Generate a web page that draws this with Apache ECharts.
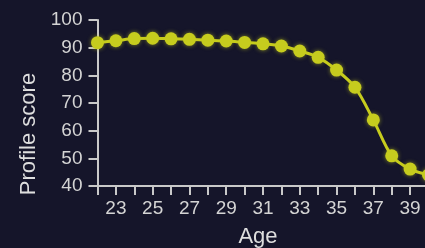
<!DOCTYPE html>
<html>
<head>
<meta charset="utf-8">
<script src="https://cdn.jsdelivr.net/npm/echarts@6/dist/echarts.min.js"></script>
<style>
  html, body { margin: 0; padding: 0; background: #15152a; }
  #chart { width: 425px; height: 248px; }
</style>
</head>
<body>
<div id="chart"></div>
<script>
  // ages and profile scores
  var ages = [22, 23, 24, 25, 26, 27, 28, 29, 30, 31, 32, 33, 34, 35, 36, 37, 38, 39, 40];
  var scores = [91.8, 92.5, 93.3, 93.4, 93.2, 93.0, 92.7, 92.4, 91.9, 91.4, 90.6, 88.8, 86.5, 81.9, 75.7, 63.9, 50.9, 46.1, 44.0];
  var yTicks = [40, 50, 60, 70, 80, 90, 100];

  var axisColor = '#c9c9c9';
  var lineColor = '#c6cc1e';

  var points = [];
  for (var i = 0; i < ages.length; i++) {
    points.push([ages[i], scores[i]]);
  }

  var myChart = echarts.init(document.getElementById('chart'));
  var option = {
    backgroundColor: '#15152a',
    animation: false,
    grid: {
      left: 97.5,
      top: 20,
      width: 331,
      height: 166,
      containLabel: false,
      outerBoundsMode: 'none'
    },
    xAxis: {
      type: 'value',
      min: ages[0],
      max: ages[ages.length - 1],
      interval: 1,
      name: 'Age',
      nameLocation: 'middle',
      nameGap: 40,
      nameTextStyle: {
        color: '#dedede',
        fontSize: 22,
        fontFamily: 'Liberation Sans',
        padding: [0, 10, 0, 0]
      },
      axisLine: { lineStyle: { color: axisColor, width: 2 } },
      axisTick: { length: 9, lineStyle: { color: axisColor, width: 2 } },
      axisLabel: {
        color: '#d4d4d4',
        fontSize: 19,
        fontFamily: 'Liberation Sans',
        margin: 13,
        formatter: function (v) { return v % 2 === 1 ? String(v) : ''; }
      },
      splitLine: { show: false }
    },
    yAxis: {
      type: 'value',
      min: yTicks[0],
      max: yTicks[yTicks.length - 1],
      interval: 10,
      name: 'Profile score',
      nameLocation: 'middle',
      nameGap: 56,
      nameTextStyle: {
        color: '#dedede',
        fontSize: 22,
        fontFamily: 'Liberation Sans',
        padding: [0, 62, 0, 0]
      },
      axisLine: { show: true, lineStyle: { color: axisColor, width: 2 } },
      axisTick: { show: true, length: 9, lineStyle: { color: axisColor, width: 2 } },
      axisLabel: {
        color: '#d4d4d4',
        fontSize: 19,
        fontFamily: 'Liberation Sans',
        margin: 15
      },
      splitLine: { show: false }
    },
    series: [{
      type: 'line',
      data: points,
      smooth: 0.3,
      symbol: 'circle',
      symbolSize: 13,
      lineStyle: { color: lineColor, width: 3 },
      itemStyle: {
        color: lineColor,
        shadowBlur: 4,
        shadowColor: 'rgba(198,204,30,0.6)'
      }
    }]
  };
  myChart.setOption(option);
</script>
</body>
</html>
